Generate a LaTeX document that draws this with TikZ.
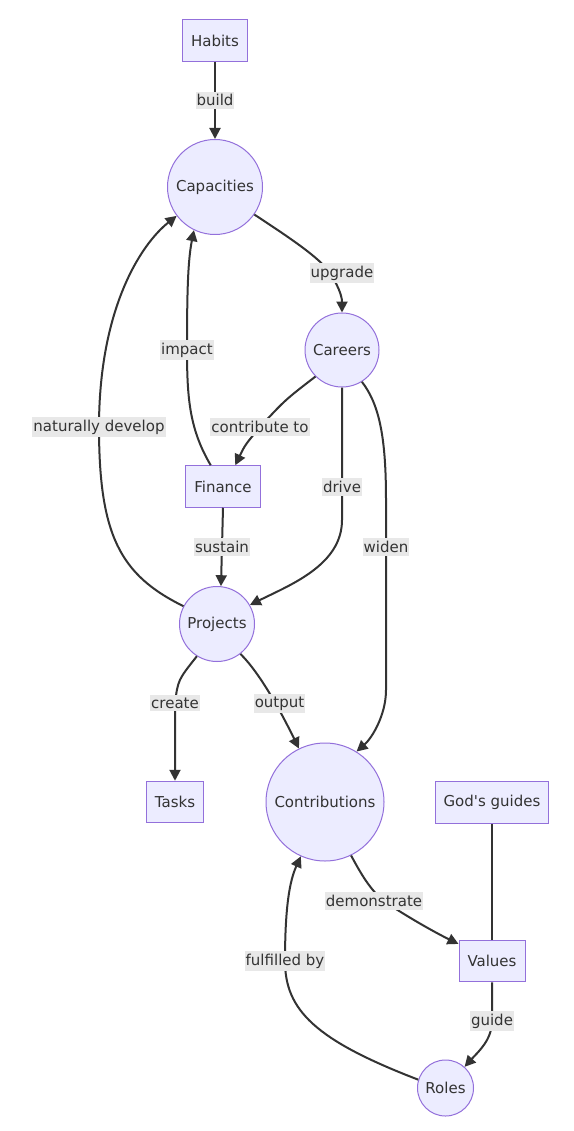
\documentclass[tikz,border=0pt]{standalone}
\usepackage{fontspec}
\setmainfont{DejaVu Sans}
\usetikzlibrary{arrows.meta}
\definecolor{nodefill}{HTML}{ECECFF}
\definecolor{nodeline}{HTML}{9370DB}
\definecolor{edgecol}{HTML}{333333}
\definecolor{lblfill}{HTML}{E8E8E8}
\definecolor{txt}{HTML}{333333}
\begin{document}
\begin{tikzpicture}[x=1pt,y=1pt,
  base/.style={draw=nodeline, fill=nodefill, line width=1pt, text=txt, font=\fontsize{15}{18}\selectfont},
  boxnode/.style={base, rectangle, inner xsep=8.5pt, inner ysep=0pt, minimum height=41.5pt},
  circnode/.style={base, circle, inner sep=0pt},
  edge/.style={draw=edgecol, line width=2pt, -{Triangle[length=11pt,width=11pt]}},
  plain/.style={draw=edgecol, line width=2pt},
  lbl/.style={fill=lblfill, text=txt, inner xsep=1pt, inner ysep=3pt, font=\fontsize{15}{18}\selectfont}]
\useasboundingbox (0,0) rectangle (573,-1131);
\fill[white] (0,0) rectangle (573,-1131);

\node[boxnode] (hab) at (215,-40.5) {Habits};
\node[circnode, minimum size=95pt] (cap) at (215,-187) {Capacities};
\node[circnode, minimum size=74pt] (car) at (342,-350) {Careers};
\node[boxnode] (fin) at (223,-486.5) {Finance};
\node[circnode, minimum size=75pt] (proj) at (217,-624) {Projects};
\node[boxnode] (task) at (175,-802) {Tasks};
\node[circnode, minimum size=118pt] (con) at (325,-802) {Contributions};
\node[boxnode] (god) at (492,-802.5) {God\textquotesingle s guides};
\node[boxnode] (val) at (492,-961) {Values};
\node[circnode, minimum size=56pt] (rol) at (445.5,-1088) {Roles};

\draw[edge] (hab) -- node[lbl] (l1) {build} (cap);
\draw[edge] (cap.-35) .. controls (290,-238) and (320,-258) .. (330,-273) node[lbl, xshift=12pt] (l2) {upgrade} .. controls (337,-284) and (342,-295) .. (car.north);
\draw[edge] (car.225) .. controls (285,-400) .. (260,-427) node[lbl] (l3) {contribute to} .. controls (245,-445) .. (fin.60);
\draw[edge] (fin.120) .. controls (190,-430) and (187,-400) .. (187,-350) node[lbl] (l4) {impact} .. controls (187,-290) and (188,-260) .. (cap.244);
\draw[edge] (proj.152) .. controls (120,-575) and (99,-535) .. (99,-427) node[lbl] (l5) {naturally develop} .. controls (99,-310) and (140,-245) .. (cap.217);
\draw[edge] (fin.south) -- node[lbl] (l6) {sustain} (proj.84);
\draw[edge] (car.south) -- (342,-487) node[lbl] (l7) {drive} -- (342,-520) .. controls (342,-565) and (290,-585) .. (proj.30);
\draw[edge] (car.-58) .. controls (380,-405) and (386,-440) .. (386,-500) -- (386,-547) node[lbl] (l8) {widen} -- (386,-690) .. controls (386,-715) and (372,-738) .. (con.58);
\draw[edge] (proj.238) .. controls (178,-680) .. (175,-703) node[lbl] (l9) {create} -- (task.north);
\draw[edge] (proj.308) .. controls (262,-675) and (285,-720) .. node[lbl, xshift=7pt, yshift=-5pt] (l10) {output} (con.116);
\draw[edge] (con.296) .. controls (360,-872) and (370,-890) .. (384,-901) node[lbl, xshift=-10pt] (l11) {demonstrate} .. controls (398,-911) and (430,-930) .. (val.153);
\draw[plain] (god.south) -- (val.north);
\draw[edge] (val.south) -- (492,-1021) node[lbl] (l12) {guide} .. controls (492,-1040) and (478,-1052) .. (rol.48);
\draw[edge] (rol.163) .. controls (315,-1040) and (285,-1010) .. (285,-961) node[lbl] (l13) {fulfilled by} .. controls (285,-905) and (290,-880) .. (con.246);
\end{tikzpicture}
\end{document}
